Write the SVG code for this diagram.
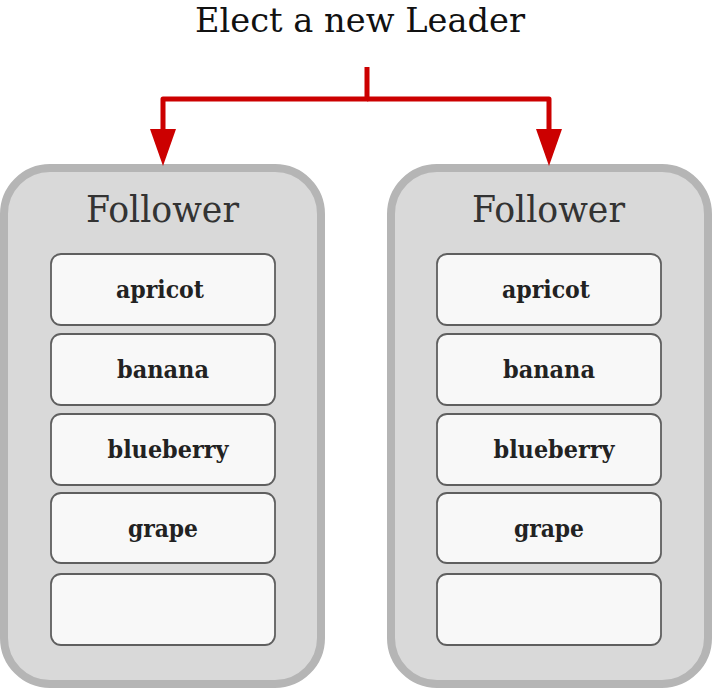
<svg xmlns="http://www.w3.org/2000/svg" width="712" height="691" viewBox="0 0 712 691">
<style>
.bg{fill:#ffffff}
.group{fill:#d9d9d9;stroke:#b5b5b5;stroke-width:8}
.item{fill:#f8f8f8;stroke:#5f5f5f;stroke-width:1.8}
.title{font-family:"DejaVu Serif","Liberation Serif",serif;font-size:34px;fill:#111;text-anchor:middle}
.gtitle{font-family:"DejaVu Serif","Liberation Serif",serif;font-size:37px;fill:#333;text-anchor:middle}
.label{font-family:"DejaVu Serif","Liberation Serif",serif;font-weight:bold;font-size:24px;fill:#222;text-anchor:middle}
.wire{fill:none;stroke:#cc0000;stroke-width:5;stroke-linejoin:round}
.head{fill:#cc0000}
</style>
<rect class="bg" x="0" y="0" width="712" height="691"/>
<text class="title" x="360" y="32" textLength="330" lengthAdjust="spacingAndGlyphs">Elect a new Leader</text>

<g id="follower-left">
<rect class="group" x="4" y="168" width="317" height="516" rx="46"/>
<text class="gtitle" x="162.5" y="222" textLength="153" lengthAdjust="spacingAndGlyphs">Follower</text>
<rect class="item" x="51" y="254" width="224" height="71" rx="10"/>
<text class="label" x="160" y="298" textLength="88" lengthAdjust="spacingAndGlyphs">apricot</text>
<rect class="item" x="51" y="334" width="224" height="71" rx="10"/>
<text class="label" x="163" y="378" textLength="92" lengthAdjust="spacingAndGlyphs">banana</text>
<rect class="item" x="51" y="414" width="224" height="71" rx="10"/>
<text class="label" x="168" y="458" textLength="121" lengthAdjust="spacingAndGlyphs">blueberry</text>
<rect class="item" x="51" y="493" width="224" height="70" rx="10"/>
<text class="label" x="163" y="537" textLength="70" lengthAdjust="spacingAndGlyphs">grape</text>
<rect class="item" x="51" y="574" width="224" height="71" rx="10"/>
</g>

<g id="follower-right">
<rect class="group" x="391" y="168" width="317" height="516" rx="46"/>
<text class="gtitle" x="548.5" y="222" textLength="153" lengthAdjust="spacingAndGlyphs">Follower</text>
<rect class="item" x="437" y="254" width="224" height="71" rx="10"/>
<text class="label" x="546" y="298" textLength="88" lengthAdjust="spacingAndGlyphs">apricot</text>
<rect class="item" x="437" y="334" width="224" height="71" rx="10"/>
<text class="label" x="549" y="378" textLength="92" lengthAdjust="spacingAndGlyphs">banana</text>
<rect class="item" x="437" y="414" width="224" height="71" rx="10"/>
<text class="label" x="554" y="458" textLength="121" lengthAdjust="spacingAndGlyphs">blueberry</text>
<rect class="item" x="437" y="493" width="224" height="70" rx="10"/>
<text class="label" x="549" y="537" textLength="70" lengthAdjust="spacingAndGlyphs">grape</text>
<rect class="item" x="437" y="574" width="224" height="71" rx="10"/>
</g>

<g id="connectors">
<path class="wire" d="M367 67 V99 H163 V131"/>
<path class="wire" d="M367 99 H549 V131"/>
<polygon class="head" points="150,129 176,129 163,166"/>
<polygon class="head" points="536,129 562,129 549,166"/>
</g>
</svg>
